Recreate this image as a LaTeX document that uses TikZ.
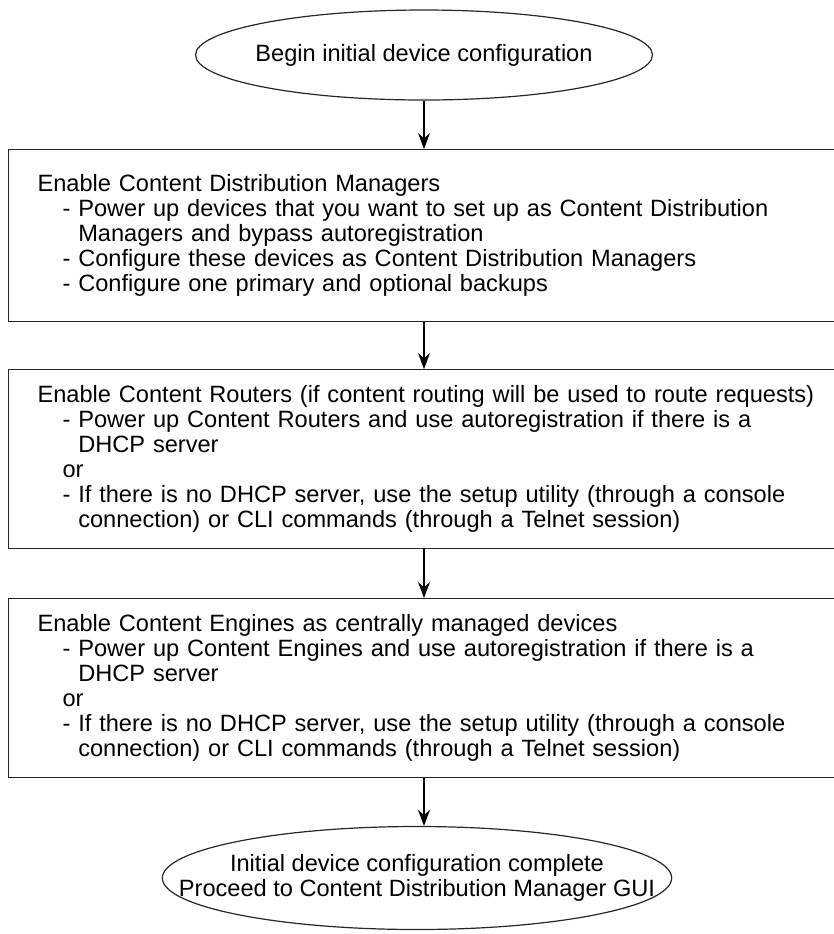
\documentclass[tikz,border=0pt]{standalone}
\usepackage{fontspec}
\setmainfont{Liberation Sans}
\usetikzlibrary{shapes.geometric,arrows.meta}
\newcommand{\dashitem}{\hspace*{12.5pt}- }
\newcommand{\dashcont}{\hspace*{12.5pt}\phantom{- }}
\begin{document}
\begin{tikzpicture}[x=0.5pt,y=-0.5pt,
  font=\fontsize{11.8}{12.5}\selectfont,
  oval/.style={
    ellipse,
    draw=black!85,
    line width=0.6pt,
    inner ysep=0pt,
    align=center
  },
  stepbox/.style={
    rectangle,
    draw=black!85,
    line width=0.6pt,
    anchor=north west,
    text width=400pt,
    inner xsep=14.5pt,
    align=left
  },
  arr/.style={line width=0.6pt,-{Stealth[length=8pt,width=6pt]}}
 ]
 \useasboundingbox (0,0) rectangle (834,934);

 %start
 \node[oval, inner xsep=-6pt, minimum width=228.5pt, minimum height=45pt] (begin) at (424,55)
   {Begin initial device configuration};

 %content distribution managers
 \node[stepbox, minimum height=86pt] (cdm) at (8,149)
   {Enable Content Distribution Managers\\
    \dashitem Power up devices that you want to set up as Content Distribution\\
    \dashcont Managers and bypass autoregistration\\
    \dashitem Configure these devices as Content Distribution Managers\\
    \dashitem Configure one primary and optional backups};

 %content routers
 \node[stepbox, minimum height=89.5pt] (cr) at (8,369)
   {Enable Content Routers (if content routing will be used to route requests)\\
    \dashitem Power up Content Routers and use autoregistration if there is a\\
    \dashcont DHCP server\\
    \hspace*{12.5pt}or\\
    \dashitem If there is no DHCP server, use the setup utility (through a console\\
    \dashcont connection) or CLI commands (through a Telnet session)};

 %content engines
 \node[stepbox, minimum height=89.5pt] (ce) at (8,598)
   {Enable Content Engines as centrally managed devices\\
    \dashitem Power up Content Engines and use autoregistration if there is a\\
    \dashcont DHCP server\\
    \hspace*{12.5pt}or\\
    \dashitem If there is no DHCP server, use the setup utility (through a console\\
    \dashcont connection) or CLI commands (through a Telnet session)};

 %end
 \node[oval, inner xsep=-29pt, minimum width=254pt, minimum height=51.5pt] (done) at (417,878)
   {Initial device configuration complete\\
    Proceed to Content Distribution Manager GUI};

 %arrows
 \draw[arr] (begin.south) -- (begin.south |- cdm.north);
 \draw[arr] (cdm.south -| begin) -- (cr.north -| begin);
 \draw[arr] (cr.south -| begin) -- (ce.north -| begin);
 \draw[arr] (ce.south -| begin) -- (done.north -| begin);
\end{tikzpicture}
\end{document}
